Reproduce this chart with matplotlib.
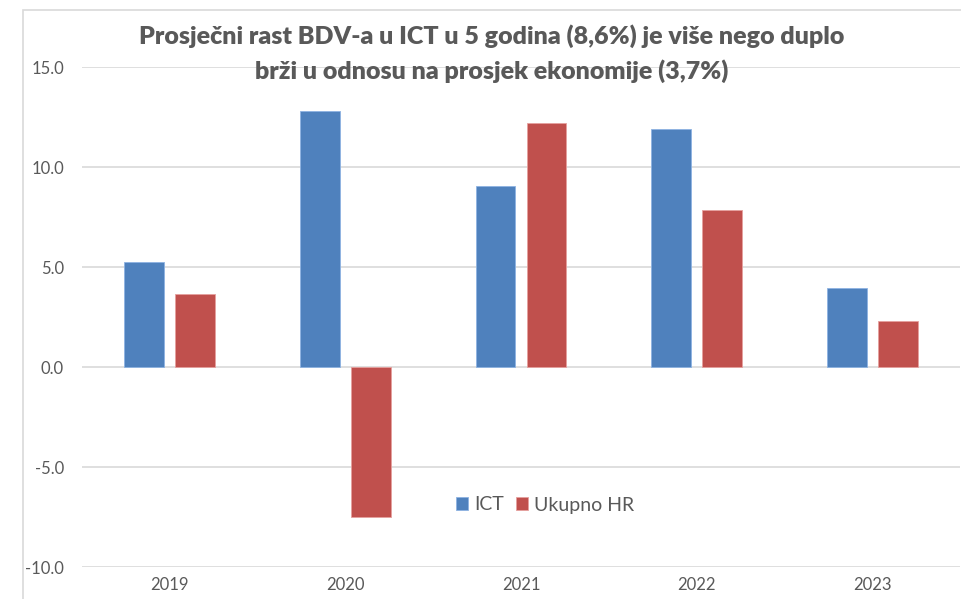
import numpy as np
import matplotlib.pyplot as plt
from matplotlib.patches import Rectangle

years = ["2019", "2020", "2021", "2022", "2023"]
ict = [5.25, 12.8, 9.05, 11.9, 3.95]
ukupno_hr = [3.65, -7.5, 12.2, 7.85, 2.3]

plt.rcParams['font.family'] = ['Lato', 'DejaVu Sans']
txt = "#595959"

fig = plt.figure(figsize=(9.61, 5.99), dpi=100)
ax = fig.add_axes([82/961, 1-567/599, (960-82)/961, 500/599])

# chart border (cut off at right/bottom like the screenshot)
fig.patches.append(Rectangle((23/961, -0.1), 1.2, 1-10/599+0.1, transform=fig.transFigure,
                             fill=False, edgecolor="#D9D9D9", linewidth=1.2))

x = np.arange(len(years))
width = 0.226
b1 = ax.bar(x - 0.145, ict, width, color="#4F81BD", edgecolor="#8DB3E2", linewidth=0.6, zorder=3)
b2 = ax.bar(x + 0.145, ukupno_hr, width, color="#C0504D", edgecolor="#E6A09E", linewidth=0.6, zorder=3)

ax.set_xlim(-0.5, len(years) - 0.5)
ax.set_ylim(-10, 15)
ax.set_yticks(np.arange(-10, 16, 5))
ax.set_yticklabels([f"{v:.1f}" for v in np.arange(-10, 16, 5)])
ax.set_xticks(x)
ax.set_xticklabels(years)
ax.yaxis.grid(True, color="#D9D9D9", linewidth=1.2, zorder=0)
ax.tick_params(axis="both", length=0, colors=txt, labelsize=12)
ax.tick_params(axis="y", pad=13)
ax.tick_params(axis="x", pad=7)
for s in ax.spines.values():
    s.set_visible(False)

ax.legend((b1[0], b2[0]), ("ICT", "Ukupno HR"), loc="center", bbox_to_anchor=((545-82)/878, (599-505-32)/500),
          ncol=2, frameon=False, fontsize=14, handlelength=0.65, handleheight=0.65,
          handletextpad=0.3, columnspacing=0.6, labelcolor=txt)

fig.text(492/961, 1-36/599, "Prosječni rast BDV-a u ICT u 5 godina (8,6%) je više nego duplo",
         ha="center", va="center", fontsize=18, fontweight="heavy", color=txt)
fig.text(492/961, 1-71/599, "brži u odnosu na prosjek ekonomije (3,7%)",
         ha="center", va="center", fontsize=18, fontweight="heavy", color=txt)

fig.savefig("out.png", dpi=100)
